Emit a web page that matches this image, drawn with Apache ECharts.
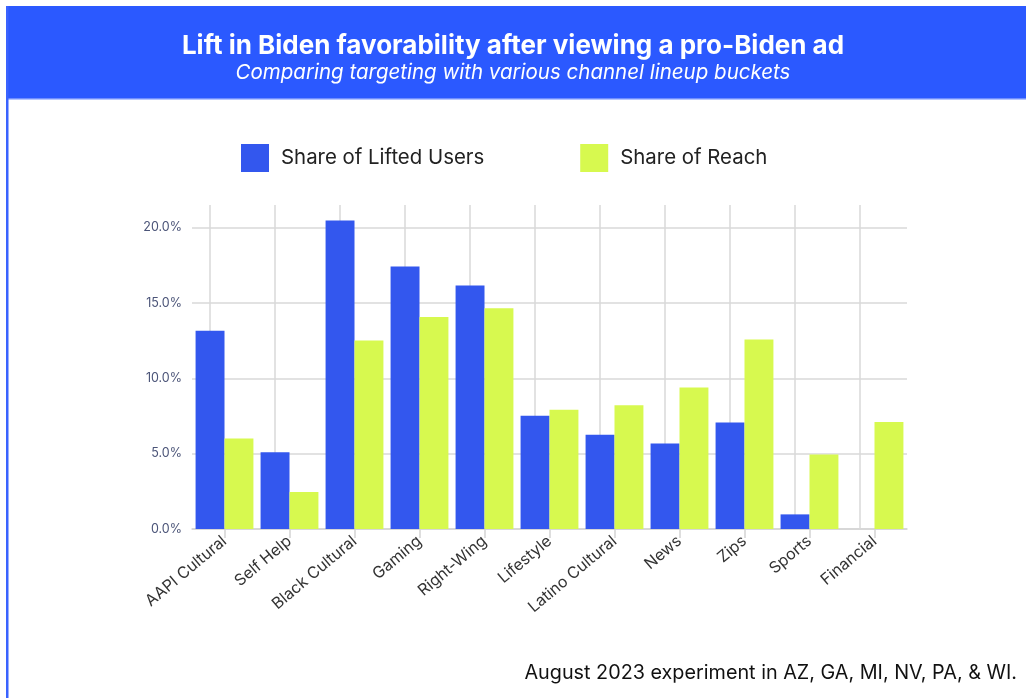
<!DOCTYPE html>
<html>
<head>
<meta charset="utf-8">
<script src="https://cdn.jsdelivr.net/npm/echarts@6/dist/echarts.min.js"></script>
<style>
html,body{margin:0;padding:0;background:#fff;}
#chart{width:1026px;height:698px;}
</style>
</head>
<body>
<div id="chart"></div>
<script>
const categories = ['AAPI Cultural','Self Help','Black Cultural','Gaming','Right-Wing','Lifestyle','Latino Cultural','News','Zips','Sports','Financial'];
const liftedUsers = [13.15, 5.1, 20.47, 17.42, 16.16, 7.52, 6.26, 5.68, 7.07, 0.97, 0];
const reach = [6.0, 2.45, 12.51, 14.06, 14.65, 7.91, 8.22, 9.39, 12.58, 4.95, 7.1];
const yTicks = [0, 5, 10, 15, 20];
const seriesNames = ['Share of Lifted Users', 'Share of Reach'];
const titleText = 'Lift in Biden favorability after viewing a pro-Biden ad';
const subtitleText = 'Comparing targeting with various channel lineup buckets';
const footnote = 'August 2023 experiment in AZ, GA, MI, NV, PA, & WI.';

const FONT = 'Inter, "Noto Sans", sans-serif';
const chart = echarts.init(document.getElementById('chart'), null, {renderer: 'canvas'});
chart.setOption({
  animation: false,
  backgroundColor: '#ffffff',
  textStyle: {fontFamily: FONT},
  graphic: [
    {type: 'rect', shape: {x: 6, y: 6, width: 1020, height: 93}, style: {fill: '#2B59FF'}, z: -10},
    {type: 'rect', shape: {x: 8, y: 98, width: 1018, height: 1.5}, style: {fill: '#6F8EFF'}, z: -9},
    {type: 'rect', shape: {x: 6, y: 6, width: 2.5, height: 692}, style: {fill: '#3A63FF'}, z: -8},
    {type: 'text', right: 9, top: 663, style: {text: footnote, fill: '#111', font: '19.8px ' + FONT}}
  ],
  title: {
    text: titleText,
    subtext: subtitleText,
    left: 'center',
    top: 28,
    itemGap: 4,
    textStyle: {color: '#ffffff', fontSize: 26, fontWeight: 'bold', fontFamily: FONT},
    subtextStyle: {color: '#ffffff', fontSize: 20.5, fontStyle: 'italic', fontFamily: FONT}
  },
  legend: {
    data: seriesNames,
    left: 236,
    top: 139,
    icon: 'rect',
    itemWidth: 28,
    itemHeight: 28,
    itemGap: 96,
    textStyle: {fontSize: 20.4, color: '#222', fontFamily: FONT, padding: [0, 0, 0, 7]}
  },
  grid: {left: 192, right: 119, top: 205, bottom: 169, containLabel: false},
  xAxis: {
    type: 'category',
    data: categories,
    axisLine: {lineStyle: {color: '#d4d4d4', width: 1.5}},
    axisTick: {show: true, alignWithLabel: true, length: 9, lineStyle: {color: '#d4d4d4', width: 1.5}},
    axisLabel: {rotate: 40, fontSize: 16, color: '#333', margin: 10, fontFamily: FONT, interval: 0},
    splitLine: {show: false}
  },
  yAxis: {
    type: 'value',
    min: 0,
    max: 21.5,
    interval: 5,
    axisLine: {show: false},
    axisTick: {show: false},
    axisLabel: {
      fontSize: 12.5, color: '#4B5478', margin: 10, fontFamily: FONT, showMaxLabel: false,
      formatter: v => (yTicks.indexOf(v) >= 0 ? v.toFixed(1) + '%' : '')
    },
    splitLine: {show: true, showMaxLine: false, lineStyle: {color: '#d9d9d9', width: 1.5}}
  },
  series: [
    {
      name: seriesNames[0],
      type: 'bar',
      data: liftedUsers,
      barGap: '0%',
      barCategoryGap: '11%',
      itemStyle: {color: '#3357EE'},
      markLine: {
        silent: true,
        symbol: 'none',
        label: {show: false},
        lineStyle: {color: '#d9d9d9', width: 1.5, type: 'solid'},
        data: categories.map(c => ({xAxis: c})),
        z: 1
      }
    },
    {
      name: seriesNames[1],
      type: 'bar',
      data: reach,
      barGap: '0%',
      barCategoryGap: '11%',
      itemStyle: {color: '#D7F94F'}
    }
  ]
});
</script>
</body>
</html>
